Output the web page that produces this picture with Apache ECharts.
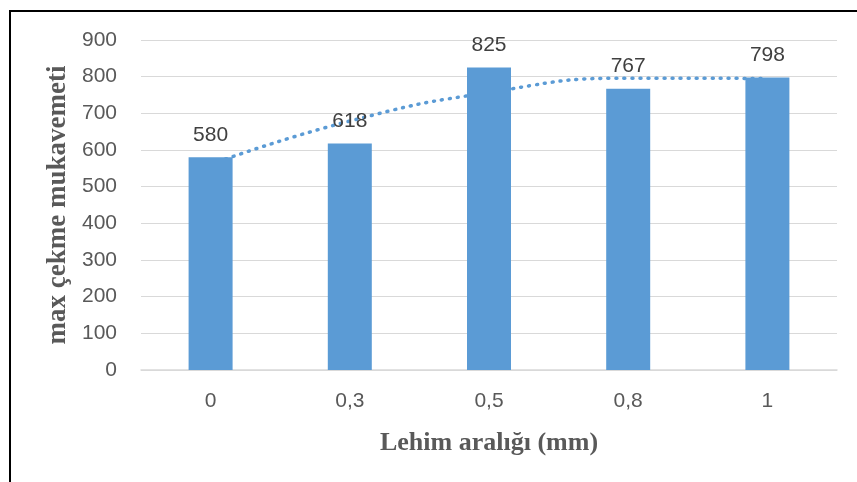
<!DOCTYPE html>
<html>
<head>
<meta charset="utf-8">
<script src="https://cdn.jsdelivr.net/npm/echarts@6/dist/echarts.min.js"></script>
<style>
  html, body { margin: 0; padding: 0; background: #fff; }
  #chart { width: 857px; height: 482px; }
</style>
</head>
<body>
<div id="chart"></div>
<script>
const categories = ['0', '0,3', '0,5', '0,8', '1']
const values = [580, 618, 825, 767, 798]
// dotted trend line at each category
const trendValues = [561, 679, 757, 796, 795]
const yTicks = { min: 0, max: 900, interval: 100 }

const myChart = echarts.init(document.getElementById('chart'))

const option = {
  animation: false,
  grid: { left: 141, right: 20, top: 40, bottom: 112 },
  graphic: [
    {
      type: 'rect',
      shape: { x: 10, y: 11, width: 900, height: 520 },
      style: { fill: 'none', stroke: '#000', lineWidth: 2 },
      silent: true
    }
  ],
  xAxis: {
    type: 'category',
    data: categories,
    name: 'Lehim aralığı (mm)',
    nameLocation: 'middle',
    nameGap: 60,
    nameTextStyle: {
      fontFamily: 'Liberation Serif',
      fontWeight: 'bold',
      fontSize: 26,
      color: '#595959'
    },
    axisLine: { lineStyle: { color: '#d9d9d9', width: 1.5 } },
    axisTick: { show: false },
    axisLabel: {
      margin: 21,
      fontFamily: 'Liberation Sans',
      fontSize: 21,
      color: '#595959'
    }
  },
  yAxis: {
    type: 'value',
    min: yTicks.min,
    max: yTicks.max,
    interval: yTicks.interval,
    name: 'max çekme mukavemeti',
    nameLocation: 'middle',
    nameGap: 63,
    nameTextStyle: {
      fontFamily: 'Liberation Serif',
      fontWeight: 'bold',
      fontSize: 27,
      color: '#595959'
    },
    axisLine: { show: false },
    axisTick: { show: false },
    splitLine: { lineStyle: { color: '#d9d9d9', width: 1 } },
    axisLabel: {
      margin: 24,
      fontFamily: 'Liberation Sans',
      fontSize: 21,
      color: '#595959'
    }
  },
  series: [
    {
      name: 'trend',
      type: 'line',
      data: trendValues,
      smooth: true,
      symbol: 'none',
      z: 1,
      lineStyle: { color: '#5b9bd5', width: 3.5, type: [1, 7], cap: 'round' }
    },
    {
      name: 'values',
      type: 'bar',
      data: values,
      barWidth: 44,
      z: 2,
      itemStyle: { color: '#5b9bd5' },
      label: {
        show: true,
        position: 'top',
        distance: 12,
        fontFamily: 'Liberation Sans',
        fontSize: 21,
        color: '#404040'
      }
    }
  ]
}

myChart.setOption(option)
</script>
</body>
</html>
